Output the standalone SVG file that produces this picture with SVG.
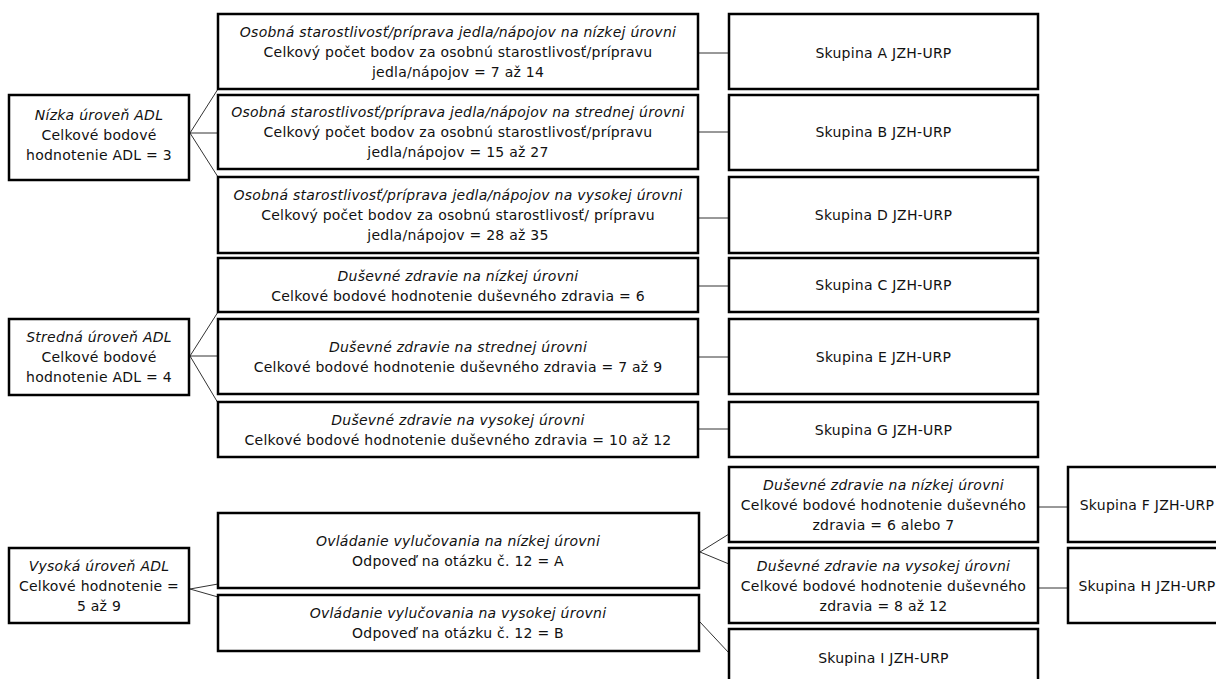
<svg xmlns="http://www.w3.org/2000/svg" width="1216" height="679" viewBox="0 0 1216 679">
<style>
.box{fill:#fff;stroke:#000;stroke-width:2.5}
.c{stroke:#333;stroke-width:1;fill:none}
text{font-family:"DejaVu Sans","Liberation Sans",sans-serif;font-size:14px;fill:#111;text-anchor:middle;letter-spacing:0.25px}
.i{font-style:italic}
</style>
<rect width="1216" height="679" fill="#fff"/>
<g id="connectors">
<path class="c" d="M190,133 L218,89 M190,133 L218,133 M190,133 L218,177"/>
<path class="c" d="M698,53 H729 M698,132 H729 M698,218 H729"/>
<path class="c" d="M190,356 L218,312 M190,356 L218,356 M190,356 L218,403"/>
<path class="c" d="M698,286 H729 M698,357 H729 M698,429 H729"/>
<path class="c" d="M190,589 L218,584 M190,589 L218,597"/>
<path class="c" d="M700,552 L729,534 M700,552 L729,564 M700,622 L729,653"/>
<path class="c" d="M1038,507 H1068 M1038,588 H1068"/>
</g>
<g id="n-nizka"><rect class="box" x="9" y="95" width="180" height="85"/>
<text x="99" y="120" class="i">Nízka úroveň ADL</text><text x="99" y="140">Celkové bodové</text><text x="99" y="160">hodnotenie ADL = 3</text></g>
<g id="n-os-nizka"><rect class="box" x="218" y="14" width="480" height="75"/>
<text x="458" y="37" class="i">Osobná starostlivosť/príprava jedla/nápojov na nízkej úrovni</text><text x="458" y="57">Celkový počet bodov za osobnú starostlivosť/prípravu</text><text x="458" y="77">jedla/nápojov = 7 až 14</text></g>
<g id="n-os-stredna"><rect class="box" x="218" y="95" width="480" height="74"/>
<text x="458" y="117" class="i">Osobná starostlivosť/príprava jedla/nápojov na strednej úrovni</text><text x="458" y="137">Celkový počet bodov za osobnú starostlivosť/prípravu</text><text x="458" y="157">jedla/nápojov = 15 až 27</text></g>
<g id="n-os-vysoka"><rect class="box" x="218" y="177" width="480" height="76"/>
<text x="458" y="200" class="i">Osobná starostlivosť/príprava jedla/nápojov na vysokej úrovni</text><text x="458" y="220">Celkový počet bodov za osobnú starostlivosť/ prípravu</text><text x="458" y="240">jedla/nápojov = 28 až 35</text></g>
<g id="n-a"><rect class="box" x="729" y="14" width="309" height="75"/><text x="883.5" y="58">Skupina A JZH-URP</text></g>
<g id="n-b"><rect class="box" x="729" y="95" width="309" height="75"/><text x="883.5" y="137">Skupina B JZH-URP</text></g>
<g id="n-d"><rect class="box" x="729" y="177" width="309" height="76"/><text x="883.5" y="220">Skupina D JZH-URP</text></g>

<g id="n-stredna"><rect class="box" x="9" y="319" width="180" height="76"/>
<text x="99" y="342" class="i">Stredná úroveň ADL</text><text x="99" y="362">Celkové bodové</text><text x="99" y="382">hodnotenie ADL = 4</text></g>
<g id="n-dz-nizka"><rect class="box" x="218" y="258" width="480" height="54"/>
<text x="458" y="280.5" class="i">Duševné zdravie na nízkej úrovni</text><text x="458" y="300.5">Celkové bodové hodnotenie duševného zdravia = 6</text></g>
<g id="n-dz-stredna"><rect class="box" x="218" y="319" width="480" height="75"/>
<text x="458" y="352" class="i">Duševné zdravie na strednej úrovni</text><text x="458" y="372">Celkové bodové hodnotenie duševného zdravia = 7 až 9</text></g>
<g id="n-dz-vysoka"><rect class="box" x="218" y="402" width="480" height="55"/>
<text x="458" y="424.5" class="i">Duševné zdravie na vysokej úrovni</text><text x="458" y="444.5">Celkové bodové hodnotenie duševného zdravia = 10 až 12</text></g>
<g id="n-c"><rect class="box" x="729" y="258" width="309" height="54"/><text x="883.5" y="290">Skupina C JZH-URP</text></g>
<g id="n-e"><rect class="box" x="729" y="319" width="309" height="75"/><text x="883.5" y="361.5">Skupina E JZH-URP</text></g>
<g id="n-g"><rect class="box" x="729" y="402" width="309" height="55"/><text x="883.5" y="434.5">Skupina G JZH-URP</text></g>

<g id="n-vysoka"><rect class="box" x="9" y="548" width="180" height="75"/>
<text x="99" y="570.5" class="i">Vysoká úroveň ADL</text><text x="99" y="590.5">Celkové hodnotenie =</text><text x="99" y="610.5">5 až 9</text></g>
<g id="n-ov-nizka"><rect class="box" x="218" y="513" width="481" height="75"/>
<text x="458" y="545.5" class="i">Ovládanie vylučovania na nízkej úrovni</text><text x="458" y="565.5">Odpoveď na otázku č. 12 = A</text></g>
<g id="n-ov-vysoka"><rect class="box" x="218" y="595" width="481" height="56"/>
<text x="458" y="618" class="i">Ovládanie vylučovania na vysokej úrovni</text><text x="458" y="638">Odpoveď na otázku č. 12 = B</text></g>
<g id="n-dz2-nizka"><rect class="box" x="729" y="467" width="309" height="75"/>
<text x="883.5" y="489.5" class="i">Duševné zdravie na nízkej úrovni</text><text x="883.5" y="509.5">Celkové bodové hodnotenie duševného</text><text x="883.5" y="529.5">zdravia = 6 alebo 7</text></g>
<g id="n-dz2-vysoka"><rect class="box" x="729" y="548" width="309" height="75"/>
<text x="883.5" y="570.5" class="i">Duševné zdravie na vysokej úrovni</text><text x="883.5" y="590.5">Celkové bodové hodnotenie duševného</text><text x="883.5" y="610.5">zdravia = 8 až 12</text></g>
<g id="n-i"><rect class="box" x="729" y="629" width="309" height="58"/><text x="883.5" y="663">Skupina I JZH-URP</text></g>
<g id="n-f"><rect class="box" x="1068" y="467" width="158" height="75"/><text x="1147" y="509.5">Skupina F JZH-URP</text></g>
<g id="n-h"><rect class="box" x="1068" y="548" width="158" height="75"/><text x="1147" y="590.5">Skupina H JZH-URP</text></g>
</svg>
